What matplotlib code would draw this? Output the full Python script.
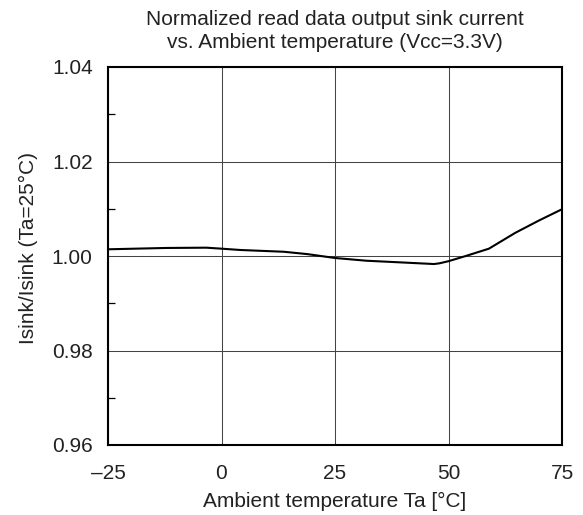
import matplotlib
matplotlib.use("Agg")
import matplotlib.pyplot as plt
from matplotlib.ticker import MultipleLocator

plt.rcParams['font.family'] = ['Liberation Sans', 'DejaVu Sans']

temps = [-25, -12.2, -3.3, 0, 4.2, 13.7, 18.9, 25, 31.9, 39.2, 46.8, 48, 50, 53.8, 58.9, 64.7, 69.9, 75]
ratio = [1.00142, 1.0017, 1.00176, 1.00155, 1.00127, 1.0009, 1.0004, 0.99958, 0.9990, 0.99866,
         0.9983, 0.99845, 0.9989, 1.0000, 1.00155, 1.0049, 1.0075, 1.0099]
xticks = [-25, 0, 25, 50, 75]
xticklabels = ['\u201325', '0', '25', '50', '75']
yticks = [0.96, 0.98, 1.00, 1.02, 1.04]
yticklabels = ['0.96', '0.98', '1.00', '1.02', '1.04']

TXT = '#222222'
FS = 15

fig = plt.figure(figsize=(5.83, 5.15), dpi=100)
ax = fig.add_axes([108 / 583, 1 - 445 / 515, (562 - 108) / 583, (445 - 67) / 515])
ax.plot(temps, ratio, color='black', lw=1.5, solid_capstyle='round', solid_joinstyle='round', zorder=3)
ax.set_xlim(-25, 75)
ax.set_ylim(0.96, 1.04)
ax.set_xticks(xticks)
ax.set_xticklabels(xticklabels, fontsize=FS, color=TXT)
ax.set_yticks(yticks)
ax.set_yticklabels(yticklabels, fontsize=FS, color=TXT)
ax.yaxis.set_minor_locator(MultipleLocator(0.01))
ax.tick_params(axis='x', which='major', length=0, pad=14)
ax.tick_params(axis='y', which='major', length=0, pad=11)
ax.tick_params(axis='y', which='minor', direction='in', length=5, width=0.9, color='black')
ax.grid(True, which='major', color='#444444', lw=0.75)
for s in ax.spines.values():
    s.set_linewidth(1.5)
    s.set_color('black')
ax.set_xlabel('Ambient temperature Ta [\u00b0C]', fontsize=FS, color=TXT)
ax.xaxis.set_label_coords(0.5, -0.123)
ax.set_ylabel('Isink/Isink (Ta=25\u00b0C)', fontsize=FS, color=TXT)
ax.yaxis.set_label_coords(-0.155, 0.521)
fig.text(334.5 / 583, 1 - 9.8 / 515,
         'Normalized read data output sink current\nvs. Ambient temperature (Vcc=3.3V)',
         fontsize=FS, color=TXT, ha='center', va='top', multialignment='center', linespacing=1.25)
fig.savefig('out.png', dpi=100)
